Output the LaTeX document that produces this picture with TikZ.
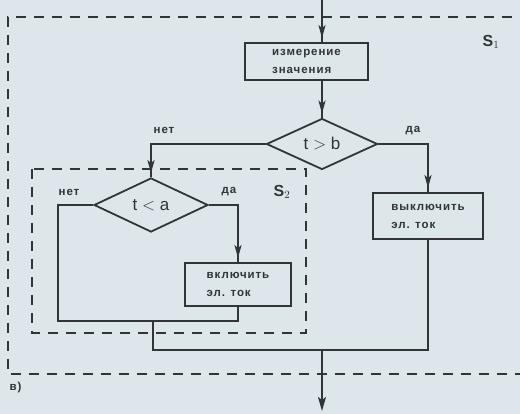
\documentclass[tikz,border=0pt]{standalone}
\usepackage{fontspec}
\setmainfont{Liberation Sans}
\newfontfamily\boxfont{Liberation Sans}[LetterSpace=8]
\usepackage{tikz}
\usetikzlibrary{shapes.geometric,arrows.meta}
\definecolor{paper}{RGB}{221,230,234}
\definecolor{ink}{RGB}{50,52,55}
\tikzstyle{action} = [draw=ink, line width=1.8pt, rectangle, align=left, inner sep=0pt, font=\boxfont\bfseries\fontsize{11.5}{18}\selectfont, text=ink]
\tikzstyle{test} = [draw=ink, line width=1.8pt, diamond, inner sep=0pt, font=\fontsize{17}{17}\selectfont, text=ink]
\tikzstyle{answer} = [font=\boxfont\bfseries\fontsize{11.5}{11.5}\selectfont, text=ink]
\tikzstyle{wire} = [draw=ink, line width=1.8pt]
\tikzstyle{flow} = [wire, postaction={draw=ink, -{Stealth[length=13pt,width=7pt,inset=3pt]}, shorten >=4pt}]
\tikzstyle{frame} = [draw=ink, line width=1.7pt, dash pattern=on 10pt off 8pt]

\begin{document}
\begin{tikzpicture}[x=1pt,y=-1pt]
\useasboundingbox (0,0) rectangle (520,414);
\fill[paper] (0,0) rectangle (520,414);
\draw[frame] (512,17) -- (8,17) -- (8,374) -- (520,374);
\draw[frame] (32,169) rectangle (306,333);
\node[text=ink, font=\bfseries\fontsize{16}{16}\selectfont] (s1) at (491,42) {S$_1$};
\node[text=ink, font=\bfseries\fontsize{16}{16}\selectfont] (s2) at (282,192) {S$_2$};
\node[answer, anchor=west] (fig) at (6,388) {в)};
\node[action, minimum width=123pt, minimum height=37pt] (meas) at (306.5,61.5) {измерение\\значения};
\node[test, minimum width=111pt, minimum height=51pt] (cmpb) at (322,144) {t $>$ b};
\node[test, minimum width=114pt, minimum height=54pt] (cmpa) at (151,205) {t $<$ a};
\node[action, minimum width=106pt, minimum height=43pt] (on) at (238,284.5) {включить\\эл. ток};
\node[action, minimum width=110pt, minimum height=46pt] (off) at (428,216) {выключить\\эл. ток};
\node[answer] (nob) at (164,130) {нет};
\node[answer] (yesb) at (413,131) {да};
\node[answer] (noa) at (69,192) {нет};
\node[answer] (yesa) at (229,192) {да};
\coordinate (in) at (322,0);
\coordinate (lft) at (58,321);
\coordinate (join) at (153,321);
\coordinate (mrg) at (322,350);
\coordinate (out) at (322,411);
\path[flow] (in) -- (in |- meas.north);
\path[flow] (meas.south -| in) -- (cmpb.north);
\path[flow] (cmpb.west) -| (cmpa.north);
\path[flow] (cmpb.east) -| (off.north);
\path[flow] (cmpa.east) -| (on.north);
\path[wire] (cmpa.west) -| (lft) -| (on.south);
\path[wire] (join) |- (mrg) -| (off.south);
\draw[ink, line width=1.8pt, -{Stealth[length=14pt,width=8pt,inset=3pt]}] (mrg) -- (out);
\end{tikzpicture}
\end{document}
